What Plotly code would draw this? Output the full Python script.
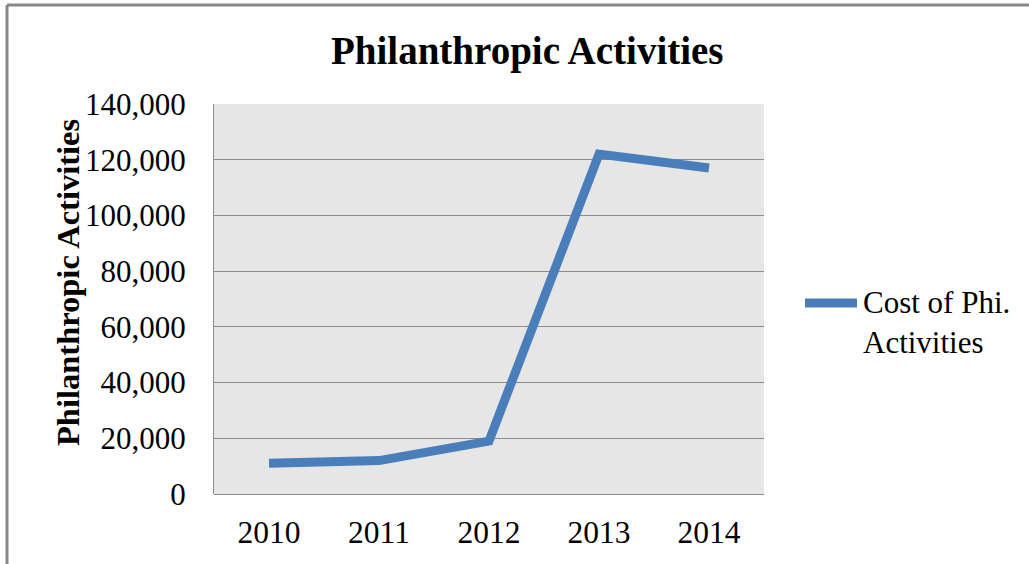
import plotly.graph_objects as go

years = ["2010", "2011", "2012", "2013", "2014"]
cost = [11000, 12000, 19000, 122000, 117000]
series_name = "Cost of Phi.<br>Activities"
y_ticks = [0, 20000, 40000, 60000, 80000, 100000, 120000, 140000]
y_tick_text = ["0", "20,000", "40,000", "60,000", "80,000", "100,000", "120,000", "140,000"]

FONT = "Liberation Serif, Times New Roman, serif"
BLUE = "#4a7ebb"
GRID = "#8c8c8c"

W, H = 1029, 564
L, R, T, B = 214, 265, 104, 70
pw, ph = W - L - R, H - T - B

def px(x):
    return (x - L) / pw

def py(y):
    return (H - B - y) / ph

fig = go.Figure()
fig.add_trace(go.Scatter(
    x=years, y=cost, mode="lines", name=series_name,
    line=dict(color=BLUE, width=9), showlegend=False,
))

fig.update_layout(
    width=W, height=H,
    margin=dict(l=L, r=R, t=T, b=B, pad=0),
    paper_bgcolor="white",
    plot_bgcolor="#e6e6e6",
    font=dict(family=FONT, color="black"),
    xaxis=dict(
        type="category", range=[-0.5, 4.5],
        showgrid=False, showline=False, zeroline=False,
        ticks="", tickfont=dict(size=31.5, family=FONT),
        ticklabelstandoff=16,
    ),
    yaxis=dict(
        range=[0, 140000], tickvals=y_ticks, ticktext=y_tick_text,
        showgrid=True, gridcolor=GRID, gridwidth=1,
        zeroline=True, zerolinecolor=GRID, zerolinewidth=1,
        showline=True, linecolor=GRID, linewidth=1,
        ticks="", tickfont=dict(size=31, family=FONT),
        ticklabelstandoff=21,
    ),
    annotations=[
        dict(text="<b>Philanthropic Activities</b>", xref="paper", yref="paper",
             x=px(527), y=py(51), xanchor="center", yanchor="middle",
             showarrow=False, font=dict(size=39, family=FONT, color="black")),
        dict(text="<b>Philanthropic Activities</b>", xref="paper", yref="paper",
             x=px(68), y=py(283), xanchor="center", yanchor="middle",
             textangle=-90, showarrow=False,
             font=dict(size=32.5, family=FONT, color="black")),
        dict(text=series_name, xref="paper", yref="paper",
             x=px(861), y=py(322), xanchor="left", yanchor="middle",
             align="left", showarrow=False,
             font=dict(size=31, family=FONT, color="black")),
    ],
    shapes=[
        # legend key
        dict(type="line", xref="paper", yref="paper",
             x0=px(805), x1=px(857), y0=py(303), y1=py(303),
             line=dict(color=BLUE, width=9)),
        # outer chart border (top and left)
        dict(type="line", xref="paper", yref="paper",
             x0=px(7), x1=px(1035), y0=py(5), y1=py(5),
             line=dict(color="#888888", width=3)),
        dict(type="line", xref="paper", yref="paper",
             x0=px(7), x1=px(7), y0=py(5), y1=py(570),
             line=dict(color="#888888", width=3)),
    ],
)

fig.write_html("out.html")
